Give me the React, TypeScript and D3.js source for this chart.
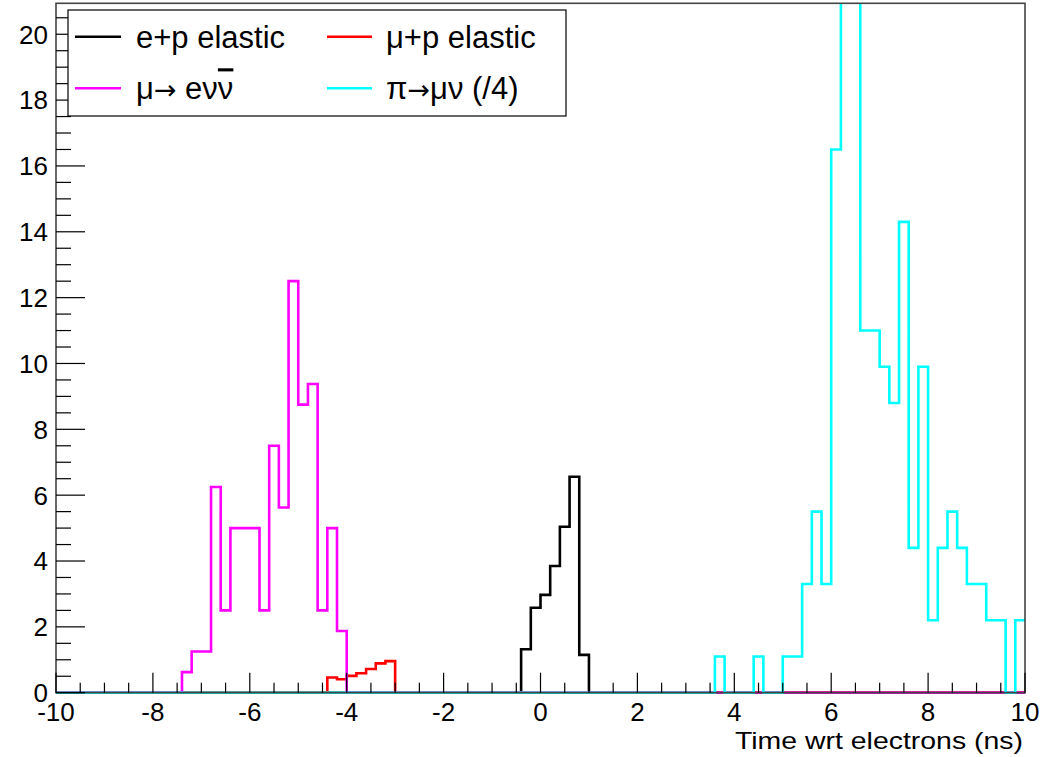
import React from "react";
import * as d3 from "d3";

// ---- data (bin width 0.2 ns, x range -10..10) ----
const X_MIN = -10;
const X_MAX = 10;
const BIN_WIDTH = 0.2;
const Y_MAX = 20.94;

const xMajorTicks = [-10, -8, -6, -4, -2, 0, 2, 4, 6, 8, 10];
const yMajorTicks = [0, 2, 4, 6, 8, 10, 12, 14, 16, 18, 20];

// e+p elastic (black), first non-empty bin starts at -0.4
const epStart = -0.4;
const epValues = [1.32, 2.58, 2.97, 3.85, 5.04, 6.56, 1.15];

// mu+p elastic (red), starts at -4.4
const mupStart = -4.4;
const mupValues = [0.46, 0.41, 0.51, 0.59, 0.72, 0.89, 0.96];

// mu -> e nu nubar (magenta), starts at -7.4
const muDecayStart = -7.4;
const muDecayValues = [
  0.625, 1.25, 1.25, 6.25, 2.5, 5, 5, 5, 2.5, 7.5, 5.625, 12.5, 8.75, 9.375,
  2.5, 5, 1.875,
];

// pi -> mu nu (/4) (cyan), starts at 3.6
const piStart = 3.6;
const piValues = [
  1.1, 0, 0, 0, 1.1, 0, 0, 1.1, 1.1, 3.3, 5.5, 3.3, 16.5, 24.2, 22.0, 11, 11,
  9.9, 8.8, 14.3, 4.4, 9.9, 2.2, 4.4, 5.5, 4.4, 3.3, 3.3, 2.2, 2.2, 0, 2.2,
];

const seriesColors = ["#000000", "#ff0000", "#ff00ff", "#00ffff"];

// ---- layout ----
const W = 1049;
const H = 757;
const L = 56;
const R = 1025;
const T = 3.3;
const B = 692.7;
const FONT = "'Liberation Sans', Arial, Helvetica, sans-serif";
const SYM = "'DejaVu Sans', 'Liberation Sans', sans-serif";

const nBins = Math.round((X_MAX - X_MIN) / BIN_WIDTH);

function fullBins(start: number, vals: number[]): number[] {
  const arr = new Array(nBins).fill(0);
  const i0 = Math.round((start - X_MIN) / BIN_WIDTH);
  vals.forEach((v, i) => {
    if (i0 + i < nBins) arr[i0 + i] = v;
  });
  return arr;
}

function LegendLabel({ idx }: { idx: number }) {
  if (idx === 0) return <>e+p elastic</>;
  if (idx === 1) return <>μ+p elastic</>;
  if (idx === 2)
    return (
      <>
        μ<tspan fontFamily={SYM} fontSize={27}>→</tspan> eν
        <tspan textDecoration="overline">ν</tspan>
      </>
    );
  return (
    <>
      π<tspan fontFamily={SYM} fontSize={27}>→</tspan>μν (/4)
    </>
  );
}

export default function App() {
  const x = d3.scaleLinear().domain([X_MIN, X_MAX]).range([L, R]);
  const y = d3.scaleLinear().domain([0, Y_MAX]).range([B, T]);

  const histPath = (vals: number[]) => {
    const p = d3.path();
    p.moveTo(x(X_MIN), y(vals[0]));
    for (let i = 0; i < vals.length; i++) {
      const xr = x(X_MIN + (i + 1) * BIN_WIDTH);
      p.lineTo(xr, y(vals[i]));
      if (i < vals.length - 1) p.lineTo(xr, y(vals[i + 1]));
    }
    return p.toString();
  };

  const hists = [
    fullBins(epStart, epValues),
    fullBins(mupStart, mupValues),
    fullBins(muDecayStart, muDecayValues),
    fullBins(piStart, piValues),
  ];

  const xMinor = d3.range(X_MIN, X_MAX + 0.001, 0.5).filter(
    (v) => !xMajorTicks.some((m) => Math.abs(m - v) < 1e-6)
  );
  const yMinor = d3.range(0, Y_MAX, 0.5).filter(
    (v) => !yMajorTicks.some((m) => Math.abs(m - v) < 1e-6)
  );

  const legendRows = [
    { y: 36.7, items: [0, 1] },
    { y: 88.3, items: [2, 3] },
  ];
  const legendCols = [
    { x1: 75, x2: 121, tx: 136 },
    { x1: 327, x2: 372, tx: 386 },
  ];

  return (
    <svg
      width={W}
      height={H}
      style={{ position: "absolute", left: 0, top: 0, background: "#fff" }}
      fontFamily={FONT}
    >
      <defs>
        <clipPath id="frameClip">
          <rect x={L} y={T} width={R - L} height={B - T + 3} />
        </clipPath>
      </defs>
      <rect x={0} y={0} width={W} height={H} fill="#fff" />

      {/* histograms */}
      <g clipPath="url(#frameClip)">
        {hists.map((h, i) => (
          <path
            key={i}
            d={histPath(h)}
            fill="none"
            stroke={seriesColors[i]}
            strokeWidth={2.6}
            strokeLinejoin="miter"
          />
        ))}
      </g>

      {/* frame */}
      <rect
        x={L}
        y={T}
        width={R - L}
        height={B - T}
        fill="none"
        stroke="#444"
        strokeWidth={1.6}
      />

      {/* ticks */}
      <g stroke="#000" strokeWidth={1.2}>
        {xMajorTicks.map((t) => (
          <line key={"xM" + t} x1={x(t)} x2={x(t)} y1={B} y2={B - 20} />
        ))}
        {xMinor.map((t) => (
          <line key={"xm" + t} x1={x(t)} x2={x(t)} y1={B} y2={B - 10} />
        ))}
        {yMajorTicks.map((t) => (
          <line key={"yM" + t} x1={L} x2={L + 29} y1={y(t)} y2={y(t)} />
        ))}
        {yMinor.map((t) => (
          <line key={"ym" + t} x1={L} x2={L + 15} y1={y(t)} y2={y(t)} />
        ))}
      </g>

      {/* tick labels */}
      <g fontSize={26} fill="#000">
        {xMajorTicks.map((t) => (
          <text key={"xl" + t} x={x(t)} y={721} textAnchor="middle">
            {t}
          </text>
        ))}
        {yMajorTicks.map((t) => (
          <text key={"yl" + t} x={48} y={y(t)} dy="0.36em" textAnchor="end">
            {t}
          </text>
        ))}
      </g>

      <text
        x={735}
        y={749}
        fontSize={24}
        textLength={288}
        lengthAdjust="spacingAndGlyphs"
        fill="#000"
      >
        Time wrt electrons (ns)
      </text>

      {/* legend */}
      <rect
        x={68}
        y={10}
        width={498}
        height={106}
        fill="#fff"
        stroke="#000"
        strokeWidth={1.2}
      />
      {legendRows.map((row, ri) =>
        row.items.map((si, ci) => (
          <g key={"lg" + ri + ci}>
            <line
              x1={legendCols[ci].x1}
              x2={legendCols[ci].x2}
              y1={row.y}
              y2={row.y}
              stroke={seriesColors[si]}
              strokeWidth={2.6}
            />
            <text
              x={legendCols[ci].tx}
              y={row.y + 11}
              fontSize={31}
              fill="#000"
            >
              <LegendLabel idx={si} />
            </text>
          </g>
        ))
      )}
    </svg>
  );
}
